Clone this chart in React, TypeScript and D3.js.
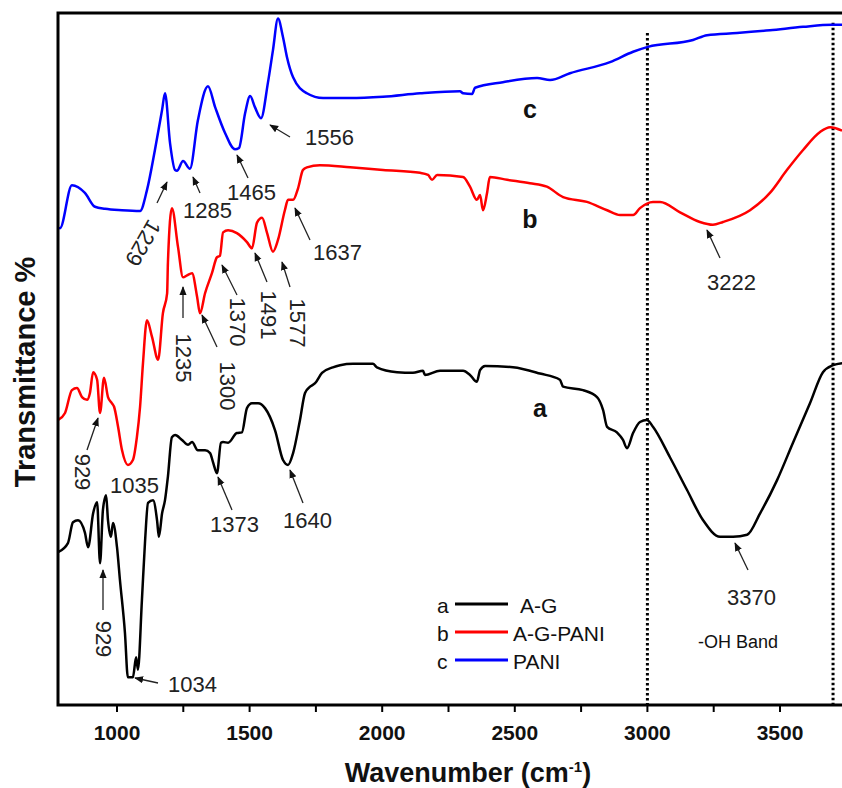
import React from "react";
import * as d3 from "d3";

// spectra: [wavenumber cm-1, transmittance (arbitrary %, offset per trace)]
const agData: [number, number][] = [
  [778, 22.1], [815, 23.4], [834, 26.4], [853, 26.7], [879, 24.9], [891, 22.8], [910, 27.7],
  [925, 29.3], [936, 20.5], [947, 28.2], [959, 30.3], [966, 26.7], [977, 24.3], [985, 26.3],
  [1000, 22.8], [1011, 18.1], [1030, 10.4], [1041, 4.0], [1060, 4.0], [1072, 6.9], [1079, 5.1],
  [1094, 15.2], [1106, 23.8], [1117, 29.2], [1136, 29.6], [1151, 26.7], [1158, 24.3], [1170, 27.7],
  [1181, 29.6], [1192, 33.0], [1207, 38.7], [1219, 39.0], [1245, 38.3], [1268, 37.6], [1283, 38.0],
  [1305, 36.8], [1332, 36.8], [1351, 36.4], [1362, 35.1], [1377, 33.5], [1392, 37.9], [1400, 38.0],
  [1419, 37.9], [1452, 39.3], [1471, 39.4], [1490, 42.9], [1509, 43.6], [1532, 43.6], [1558, 42.9],
  [1596, 39.7], [1626, 35.4], [1645, 34.7], [1664, 36.4], [1690, 41.2], [1709, 45.1], [1728, 46.0],
  [1747, 46.5], [1773, 48.0], [1814, 48.8], [1841, 49.1], [1890, 49.3], [1965, 49.3], [1980, 48.8],
  [2056, 48.1], [2116, 48.0], [2154, 48.3], [2161, 47.7], [2218, 48.3], [2305, 48.3], [2331, 47.7],
  [2357, 46.7], [2369, 48.4], [2388, 49.0], [2493, 48.8], [2595, 47.9], [2670, 47.0], [2682, 46.0],
  [2757, 45.5], [2810, 44.5], [2833, 42.6], [2848, 40.2], [2885, 39.4], [2908, 38.3], [2923, 37.1],
  [2946, 39.3], [2972, 40.9], [2998, 41.2], [3021, 40.2], [3085, 35.8], [3149, 31.1], [3210, 26.7],
  [3274, 24.3], [3323, 24.3], [3376, 24.6], [3425, 27.7], [3489, 32.5], [3549, 37.9], [3613, 43.6],
  [3662, 48.1], [3700, 49.1], [3734, 49.4],
];

const agPaniData: [number, number][] = [
  [778, 41.2], [804, 42.2], [830, 45.5], [849, 45.8], [868, 44.5], [887, 44.1], [898, 45.1],
  [910, 48.1], [925, 47.0], [936, 42.2], [951, 47.3], [966, 44.5], [981, 43.6], [989, 43.1],
  [1004, 40.2], [1019, 36.8], [1041, 34.7], [1060, 35.4], [1075, 38.7], [1087, 43.1], [1098, 49.4],
  [1113, 55.6], [1132, 53.2], [1155, 49.9], [1173, 56.6], [1189, 59.5], [1192, 63.9], [1207, 71.8],
  [1230, 66.2], [1249, 61.8], [1264, 62.1], [1283, 62.4], [1302, 59.0], [1313, 56.6], [1332, 59.5],
  [1358, 62.4], [1377, 64.7], [1388, 64.9], [1400, 68.3], [1419, 68.6], [1452, 68.2], [1490, 66.9],
  [1509, 66.0], [1528, 69.7], [1547, 70.4], [1566, 68.2], [1588, 65.5], [1607, 67.2], [1633, 71.5],
  [1645, 73.0], [1664, 73.0], [1683, 74.7], [1701, 77.3], [1716, 77.7], [1765, 78.0], [1879, 77.7],
  [2003, 77.3], [2143, 76.9], [2173, 76.6], [2188, 75.9], [2207, 76.6], [2305, 76.3], [2331, 74.9],
  [2357, 73.0], [2369, 73.7], [2380, 71.5], [2395, 73.9], [2406, 76.3], [2471, 75.9], [2557, 75.4],
  [2621, 74.9], [2682, 73.4], [2772, 72.7], [2848, 71.5], [2897, 70.8], [2946, 70.8], [2972, 71.8],
  [3021, 72.7], [3048, 72.7], [3123, 71.2], [3198, 69.8], [3247, 69.4], [3285, 69.8], [3387, 71.5],
  [3462, 74.0], [3526, 77.3], [3587, 80.2], [3651, 82.8], [3689, 83.5], [3734, 83.0],
];

const paniData: [number, number][] = [
  [778, 69.0], [785, 68.9], [830, 75.1], [879, 74.0], [917, 72.0], [955, 71.7], [1019, 71.5],
  [1087, 71.4], [1113, 74.4], [1143, 80.2], [1170, 86.0], [1181, 88.4], [1200, 81.2], [1219, 77.3],
  [1226, 77.2], [1249, 78.6], [1275, 77.5], [1305, 84.5], [1343, 89.4], [1370, 86.4], [1407, 82.7],
  [1445, 80.3], [1460, 80.5], [1483, 85.5], [1502, 88.0], [1520, 86.4], [1543, 84.8], [1569, 89.9],
  [1588, 94.6], [1607, 99.2], [1626, 96.5], [1641, 93.6], [1664, 90.7], [1716, 88.4], [1777, 87.7],
  [1879, 87.7], [2003, 87.9], [2143, 88.4], [2293, 88.7], [2305, 88.4], [2339, 88.3], [2350, 89.2],
  [2455, 90.0], [2584, 90.6], [2633, 90.3], [2708, 91.3], [2859, 92.9], [2946, 94.4], [3002, 95.1],
  [3172, 96.1], [3225, 96.8], [3338, 97.1], [3462, 97.5], [3587, 98.0], [3696, 98.3], [3734, 98.3],
];

const seriesKeys = ["a", "b", "c"];
const seriesNames = ["A-G", "A-G-PANI", "PANI"];
const seriesColors = ["#000000", "#ff0000", "#0000ff"];
const seriesData = [agData, agPaniData, paniData];

const xTicks = [1000, 1500, 2000, 2500, 3000, 3500];
const xMinorTicks = [1250, 1750, 2250, 2750, 3250];

// dotted guide lines (wavenumber, top of line)
const guideLines: [number, number][] = [[3000, 97.1], [3700, 98.6]];

// peak labels, placed by hand
const peakLabels = [
  { text: "1556", x: 305, y: 145, rot: 0, arrow: [290, 137, 270, 125] },
  { text: "1465", x: 227, y: 200, rot: 0, arrow: [248, 178, 237, 155] },
  { text: "1285", x: 183, y: 218, rot: 0, arrow: [200, 193, 193, 177] },
  { text: "1229", x: 143, y: 243, rot: 120, arrow: [157, 203, 167, 182] },
  { text: "1637", x: 313, y: 260, rot: 0, arrow: [310, 240, 295, 208] },
  { text: "1235", x: 183, y: 358, rot: 90, arrow: [183, 318, 183, 287] },
  { text: "1300", x: 227, y: 386, rot: 90, arrow: [217, 347, 202, 315] },
  { text: "1370", x: 237, y: 322, rot: 90, arrow: [237, 295, 222, 265] },
  { text: "1491", x: 268, y: 315, rot: 90, arrow: [267, 282, 255, 253] },
  { text: "1577", x: 297, y: 323, rot: 90, arrow: [290, 287, 282, 262] },
  { text: "929", x: 82, y: 472, rot: 90, arrow: [87, 450, 98, 418] },
  { text: "1035", x: 110, y: 493, rot: 0, arrow: null },
  { text: "1373", x: 210, y: 532, rot: 0, arrow: [232, 510, 218, 477] },
  { text: "1640", x: 283, y: 528, rot: 0, arrow: [303, 503, 290, 470] },
  { text: "929", x: 103, y: 639, rot: 90, arrow: [103, 610, 103, 570] },
  { text: "1034", x: 168, y: 692, rot: 0, arrow: [158, 683, 135, 678] },
  { text: "3222", x: 707, y: 290, rot: 0, arrow: [720, 258, 707, 230] },
  { text: "3370", x: 727, y: 605, rot: 0, arrow: [748, 570, 735, 543] },
];

const FONT = "'Liberation Sans', Arial, sans-serif";

const App = () => {
  const width = 842;
  const height = 788;
  const left = 58, top = 13, bottom = 705, right = 846;

  const xScale = d3.scaleLinear().domain([1000, 3500]).range([117, 780]);
  const yScale = d3.scaleLinear().domain([0, 100]).range([bottom, top]);

  const line = d3.line<[number, number]>()
    .x(d => xScale(d[0]))
    .y(d => yScale(d[1]))
    .curve(d3.curveMonotoneX);

  // series label positions (letter next to each trace)
  const traceTags = [
    { k: "a", x: 540, y: 417 },
    { k: "b", x: 530, y: 228 },
    { k: "c", x: 530, y: 118 },
  ];

  return (
    <svg width={width} height={height} style={{ position: "absolute", left: 0, top: 0, background: "#fff" }}>
      <defs>
        <clipPath id="plotArea">
          <rect x={left} y={top} width={right - left} height={bottom - top} />
        </clipPath>
        <marker id="arrowHead" viewBox="0 0 10 10" refX="9" refY="5" markerWidth="9" markerHeight="9"
          markerUnits="userSpaceOnUse" orient="auto">
          <path d="M0,1 L10,5 L0,9 z" fill="#111" />
        </marker>
      </defs>

      {/* dotted guide lines */}
      {guideLines.map(([w, t], i) => (
        <line key={i} x1={xScale(w)} x2={xScale(w)} y1={yScale(t)} y2={bottom}
          stroke="#000" strokeWidth={3} strokeDasharray="2.5,2.5" />
      ))}

      {/* traces */}
      <g clipPath="url(#plotArea)">
        {seriesData.map((d, i) => (
          <path key={i} d={line(d) || ""} fill="none" stroke={seriesColors[i]}
            strokeWidth={2.5} strokeLinejoin="round" />
        ))}
      </g>

      {/* frame */}
      <path d={`M${right},${top} L${left},${top} L${left},${bottom} L${right},${bottom}`}
        fill="none" stroke="#000" strokeWidth={3} />

      {/* x ticks */}
      {xTicks.concat(xMinorTicks).map(t => (
        <line key={t} x1={xScale(t)} x2={xScale(t)} y1={bottom} y2={bottom + 7} stroke="#000" strokeWidth={2} />
      ))}
      {xTicks.map(t => (
        <text key={t} x={xScale(t)} y={740} textAnchor="middle" fontFamily={FONT}
          fontWeight="bold" fontSize={21} fill="#111">{t}</text>
      ))}

      {/* axis titles */}
      <text x={468} y={782} textAnchor="middle" fontFamily={FONT} fontWeight="bold" fontSize={27} fill="#111">
        Wavenumber (cm<tspan dy={-10} fontSize={15}>-1</tspan><tspan dy={10}>)</tspan>
      </text>
      <text transform="translate(35,372) rotate(-90)" textAnchor="middle" fontFamily={FONT}
        fontWeight="bold" fontSize={29} fill="#111">Transmittance %</text>

      {/* trace letters */}
      {traceTags.map(t => (
        <text key={t.k} x={t.x} y={t.y} textAnchor="middle" fontFamily={FONT} fontWeight="bold"
          fontSize={25} fill="#111">{t.k}</text>
      ))}

      {/* peak annotations */}
      {peakLabels.map((p, i) => (
        <g key={i}>
          {p.arrow && (
            <line x1={p.arrow[0]} y1={p.arrow[1]} x2={p.arrow[2]} y2={p.arrow[3]}
              stroke="#222" strokeWidth={1.3} markerEnd="url(#arrowHead)" />
          )}
          {p.rot === 0 ? (
            <text x={p.x} y={p.y} fontFamily={FONT} fontSize={22} fill="#222">{p.text}</text>
          ) : (
            <text transform={`translate(${p.x},${p.y}) rotate(${p.rot})`} textAnchor="middle"
              dominantBaseline="central" fontFamily={FONT} fontSize={22} fill="#222">{p.text}</text>
          )}
        </g>
      ))}

      <text x={698} y={648} fontFamily={FONT} fontSize={18} fill="#111">-OH Band</text>

      {/* legend */}
      {seriesKeys.map((k, i) => (
        <g key={k} transform={`translate(0,${604 + i * 28})`}>
          <text x={437} y={9} fontFamily={FONT} fontSize={21} fill="#111">{k}</text>
          <line x1={455} x2={508} y1={0} y2={0} stroke={seriesColors[i]} strokeWidth={3} />
          <text x={i === 0 ? 520 : 513} y={9} fontFamily={FONT} fontSize={21} fill="#111">{seriesNames[i]}</text>
        </g>
      ))}
    </svg>
  );
};

export default App;
